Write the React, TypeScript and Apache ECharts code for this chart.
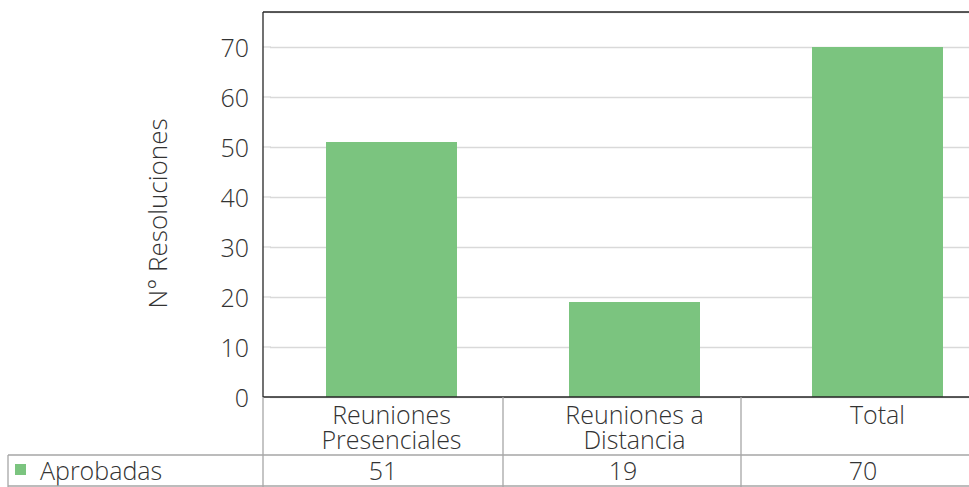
import React, { useEffect, useRef } from "react";
import * as echarts from "echarts";

const categories = ["Reuniones\nPresenciales", "Reuniones a\nDistancia", "Total"];
const aprobadas = [51, 19, 70];
const seriesName = "Aprobadas";
const yTitle = "N° Resoluciones";
const yTicks = [10, 20, 30, 40, 50, 60, 70];

const FONT = "'Open Sans', Lato, sans-serif";
const FS = 25;
const FW = 300;
const TXT = "#333333";
const GRAY = "#a6a6a6";

export default function App() {
  const ref = useRef<HTMLDivElement>(null);
  useEffect(() => {
    const chart = echarts.init(ref.current!, null, { renderer: "svg" });
    const line = (x1: number, y1: number, x2: number, y2: number, stroke: string, w = 1.3) => ({
      type: "line",
      shape: { x1, y1, x2, y2 },
      style: { stroke, lineWidth: w },
      z: 10,
    });
    const ts = { fontSize: FS, color: TXT, fontFamily: FONT, fontWeight: FW };
    chart.setOption({
      animation: false,
      backgroundColor: "#fff",
      textStyle: { fontFamily: FONT },
      legend: {
        left: 15,
        top: 457,
        padding: 0,
        icon: "rect",
        itemWidth: 11,
        itemHeight: 11,
        textStyle: { ...ts, lineHeight: 25, padding: [0, 0, 0, 9] },
        data: [seriesName],
      },
      grid: [
        { left: 270, top: 12, width: 729, height: 385 },
        { left: 263, top: 455, width: 720, height: 1 },
      ],
      xAxis: [
        {
          type: "category",
          gridIndex: 0,
          data: categories,
          axisLine: { show: false },
          axisTick: { show: false },
          axisLabel: { ...ts, lineHeight: 25, margin: 4 },
        },
        {
          type: "category",
          gridIndex: 1,
          data: aprobadas.map(String),
          axisLine: { show: false },
          axisTick: { show: false },
          axisLabel: { ...ts, lineHeight: 25, margin: 1 },
        },
      ],
      yAxis: [
        {
          type: "value",
          gridIndex: 0,
          min: 0,
          max: 77,
          interval: 10,
          offset: 7,
          name: yTitle,
          nameLocation: "middle",
          nameGap: 93,
          nameTextStyle: { ...ts, fontSize: 26, padding: [0, 18, 0, 0] },
          axisLine: { show: false },
          axisTick: { show: false },
          axisLabel: { ...ts, margin: 14, showMaxLabel: false },
          splitLine: { lineStyle: { color: "#d9d9d9", width: 1.3 } },
        },
        {
          type: "value",
          gridIndex: 1,
          show: false,
        },
      ],
      series: [
        {
          name: seriesName,
          type: "bar",
          xAxisIndex: 0,
          yAxisIndex: 0,
          data: aprobadas,
          barWidth: 131,
          itemStyle: { color: "#7bc47f" },
        },
      ],
    });
    const stubs = yTicks.map((v) => {
      const y = chart.convertToPixel({ yAxisIndex: 0 }, v) as number;
      return line(263, y, 271, y, "#d9d9d9", 1.3);
    });
    chart.setOption({
      graphic: [
        ...stubs,
        line(263, 12, 983, 12, "#262626", 1.5),
        line(263, 12, 263, 397, "#262626", 1.3),
        line(263, 397, 983, 397, "#262626", 1.3),
        line(263, 397, 263, 487, GRAY),
        line(503, 397, 503, 487, GRAY),
        line(741, 397, 741, 487, GRAY),
        line(8, 455, 983, 455, GRAY),
        line(8, 455, 8, 487, GRAY),
        line(8, 486, 983, 486, GRAY),
      ],
    });
    return () => chart.dispose();
  }, []);
  return (
    <div style={{ width: 969, height: 487, position: "absolute", left: 0, top: 0, overflow: "hidden" }}>
      <div ref={ref} style={{ width: 1000, height: 487 }} />
    </div>
  );
}
